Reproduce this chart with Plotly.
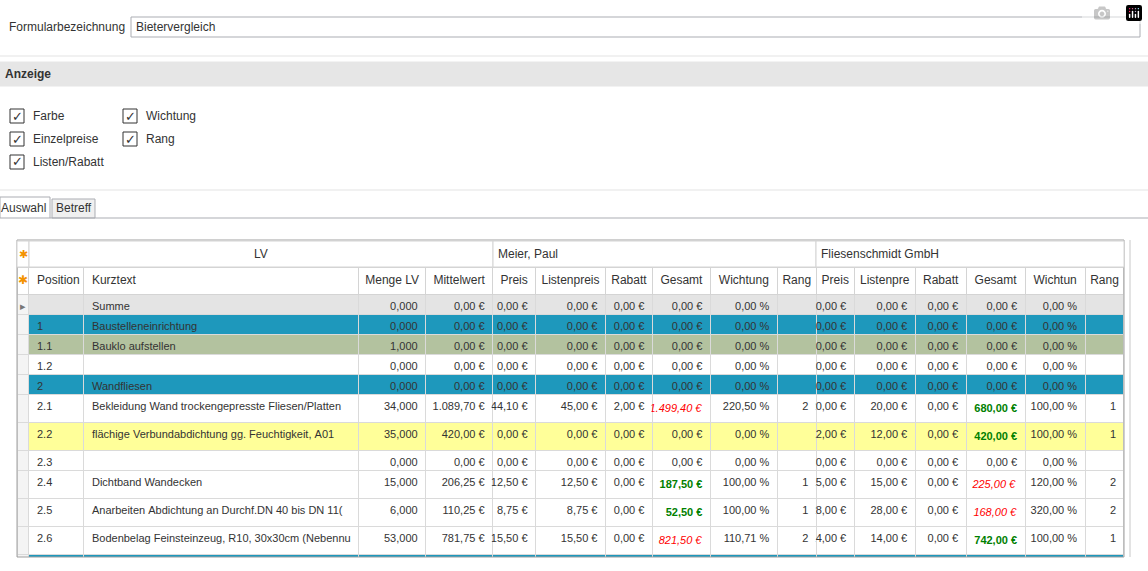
import plotly.graph_objects as go

# Sample data
positions = ["", "1", "1.1", "1.2", "2", "2.1", "2.2", "2.3", "2.4", "2.5", "2.6", "3", "3.1"]
kurztext = ["Summe", "Baustelleneinrichtung", "Bauklo aufstellen", "", "Wandfliesen",
            "Bekleidung Wand trockengepresste Fliesen/Platten",
            "flächige Verbundabdichtung gg. Feuchtigkeit, A01", "", "Dichtband Wandecken",
            "Anarbeiten Abdichtung an Durchf.DN 40 bis DN 11(",
            "Bodenbelag Feinsteinzeug, R10, 30x30cm (Nebennu", "Bodenfliesen",
            "flächige Verbundabdichtung gg. Feuchtigkeit, A01"]
row_kind = ["sum", "group", "sub", "plain", "group", "plain", "hl", "plain", "plain", "plain", "plain", "group", "plain"]
menge_lv = ["0,000", "0,000", "1,000", "0,000", "0,000", "34,000", "35,000", "0,000", "15,000", "6,000", "53,000", "0,000", "15,000"]
mittelwert = ["0,00 €"] * 5 + ["1.089,70 €", "420,00 €", "0,00 €", "206,25 €", "110,25 €", "781,75 €", "0,00 €", "219,38 €"]

# Bieter 1: Meier, Paul
meier_preis = ["0,00 €"] * 5 + ["44,10 €", "0,00 €", "0,00 €", "12,50 €", "8,75 €", "15,50 €", "0,00 €", "10,25 €"]
meier_listen = ["0,00 €"] * 5 + ["45,00 €", "0,00 €", "0,00 €", "12,50 €", "8,75 €", "15,50 €", "0,00 €", "10,25 €"]
meier_rabatt = ["0,00 €"] * 5 + ["2,00 €"] + ["0,00 €"] * 7
meier_gesamt = ["0,00 €"] * 5 + ["1.499,40 €", "0,00 €", "0,00 €", "187,50 €", "52,50 €", "821,50 €", "0,00 €", "153,75 €"]
meier_wichtung = ["0,00 %"] * 5 + ["220,50 %", "0,00 %", "0,00 %", "100,00 %", "100,00 %", "110,71 %", "0,00 %", "100,00 %"]
meier_rang = [""] * 5 + ["2", "", "", "1", "1", "2", "", "1"]

# Bieter 2: Fliesenschmidt GmbH
fs_preis = ["0,00 €"] * 5 + ["20,00 €", "12,00 €", "0,00 €", "15,00 €", "28,00 €", "14,00 €", "0,00 €", "19,00 €"]
fs_listen = ["0,00 €"] * 5 + ["20,00 €", "12,00 €", "0,00 €", "15,00 €", "28,00 €", "14,00 €", "0,00 €", "19,00 €"]
fs_rabatt = ["0,00 €"] * 13
fs_gesamt = ["0,00 €"] * 5 + ["680,00 €", "420,00 €", "0,00 €", "225,00 €", "168,00 €", "742,00 €", "0,00 €", "285,00 €"]
fs_wichtung = ["0,00 %"] * 5 + ["100,00 %", "100,00 %", "0,00 %", "120,00 %", "320,00 %", "100,00 %", "0,00 %", "185,37 %"]
fs_rang = [""] * 5 + ["1", "1", "", "2", "2", "1", "", "2"]

# Bewertung der Gesamtpreise: g = guenstigster, r = teurer
meier_flag = [""] * 5 + ["r", "", "", "g", "g", "r", "", "g"]
fs_flag = [""] * 5 + ["g", "g", "", "r", "r", "g", "", "r"]

headers = ["✱", "Position", "Kurztext", "Menge LV", "Mittelwert", "Preis", "Listenpreis", "Rabatt", "Gesamt",
           "Wichtung", "Rang", "Preis", "Listenpre", "Rabatt", "Gesamt", "Wichtun", "Rang"]
col_px = [12, 55, 275, 67, 67, 43, 70, 47, 58, 67, 39, 38, 61, 51, 59, 60, 39]

W, H = 1148, 571
px = lambda v: v / W
py = lambda v: 1 - v / H
nb = lambda s: s.replace(" ", "\u00a0")  # kein Zeilenumbruch in den Zellen

fill_map = {"sum": "#E4E4E4", "group": "#1E98BC", "sub": "#B3C29F", "hl": "#FFFF99", "plain": "white"}
row_fill = [fill_map[k] for k in row_kind]


def gesamt_text(values, flags):
    out = []
    for v, f in zip(values, flags):
        if f == "g":
            out.append("<b>" + v + "</b>")
        elif f == "r":
            out.append("<i>" + v + "</i>")
        else:
            out.append(v)
    return out


def gesamt_color(flags):
    return [{"g": "#008000", "r": "#FF0000"}.get(f, "#333333") for f in flags]


indicator = ["▸"] + [""] * 12
columns = [indicator, positions, kurztext, menge_lv, mittelwert,
           meier_preis, meier_listen, meier_rabatt, gesamt_text(meier_gesamt, meier_flag), meier_wichtung, meier_rang,
           fs_preis, fs_listen, fs_rabatt, gesamt_text(fs_gesamt, fs_flag), fs_wichtung, fs_rang]
columns = [[nb(v) for v in col] for col in columns]
plain_color = ["#333333"] * 13
font_colors = [["#777777"] * 13] + [plain_color] * 7 + [gesamt_color(meier_flag)] + [plain_color] * 5 + \
              [gesamt_color(fs_flag)] + [plain_color] * 2
fills = [["#F4F4F4"] * 13, ["#E4E4E4"] + row_fill[1:]] + [row_fill] * 15

fig = go.Figure(go.Table(
    domain={'x': [px(17), px(1124)], 'y': [py(557), py(267)]},
    columnwidth=col_px,
    header={'values': [nb(h) for h in headers],
            'height': 27, 'fill': {'color': "white"},
            'align': ["center", "left", "left"] + ["center"] * 14,
            'line': {'color': "#D4D4D4", 'width': 1},
            'font': {'family': "Liberation Sans", 'size': 12, 'color': ["#F39200"] + ["#333333"] * 16}},
    cells={'values': columns, 'height': 20, 'fill': {'color': fills},
           'align': ["center", "left", "left"] + ["right"] * 14,
           'line': {'color': "#DADADA", 'width': 1},
           'font': {'family': "Liberation Sans", 'size': 11, 'color': font_colors}},
))

shapes = []
annotations = []


def add_text(x, y, text, size=12, anchor="left", color="#333333"):
    annotations.append(dict(x=px(x), y=py(y), xref="paper", yref="paper", text=text, showarrow=False,
                            xanchor=anchor, yanchor="middle", font={'size': size, 'color': color}))


def add_rect(x0, y0, x1, y1, line="#ABADB3", fill=None):
    shapes.append(dict(type="rect", xref="paper", yref="paper", x0=px(x0), x1=px(x1), y0=py(y0), y1=py(y1),
                       line={'color': line, 'width': 1}, fillcolor=fill))


def add_line(x0, y0, x1, y1, color="#E3E3E3"):
    shapes.append(dict(type="line", xref="paper", yref="paper", x0=px(x0), x1=px(x1), y0=py(y0), y1=py(y1),
                       line={'color': color, 'width': 1}))


# Kopfbereich
add_text(7, 27, "Formularbezeichnung")
add_rect(131, 17, 1140, 37)
add_text(134, 27, "Bietervergleich")
add_line(0, 56, 1148, 56)
add_rect(0, 62, 1148, 86, line="#E6E6E6", fill="#E6E6E6")
add_text(3, 74, "<b>Anzeige</b>")

# Checkboxen
checkboxes = [(10, 116, "Farbe"), (10, 139, "Einzelpreise"), (10, 162, "Listen/Rabatt"),
              (123, 116, "Wichtung"), (123, 139, "Rang")]
for cx, cy, label in checkboxes:
    add_rect(cx, cy - 7, cx + 14, cy + 7, line="#333333", fill="white")
    add_text(cx + 7, cy, "✓", size=13, anchor="center")
    add_text(cx + 21, cy, label)
add_line(0, 190, 1148, 190)

# Reiter
add_rect(52, 199, 95, 218, line="#ABADB3", fill="#F0F0F0")
add_text(54, 208, "Betreff")
add_rect(0, 197, 50, 218, line="#ABADB3", fill="white")
add_text(-1, 208, "Auswahl")
add_line(50, 218, 1148, 218, color="#ABADB3")

# Gruppenkopf ueber der Tabelle
add_rect(17, 240, 1124, 557, line="#A0A0A0")
add_rect(17, 241, 29, 267, line="#D4D4D4", fill="white")
add_text(23, 254, "✱", size=11, anchor="center", color="#F39200")
add_rect(29, 241, 493, 267, line="#D4D4D4", fill="white")
add_rect(493, 241, 816, 267, line="#D4D4D4", fill="white")
add_rect(816, 241, 1124, 267, line="#D4D4D4", fill="white")
add_text(261, 254, "LV", anchor="center")
add_text(496, 254, "Meier, Paul")
add_text(819, 254, "Fliesenschmidt GmbH")
add_line(1130, 240, 1130, 557, color="#C8C8C8")

fig.update_layout(width=W, height=H, margin={'l': 0, 'r': 0, 't': 0, 'b': 0},
                  paper_bgcolor="white", font={'family': "Liberation Sans", 'size': 12, 'color': "#333333"},
                  shapes=shapes, annotations=annotations)

fig.write_html("out.html", post_script="document.body.style.margin='0';")
